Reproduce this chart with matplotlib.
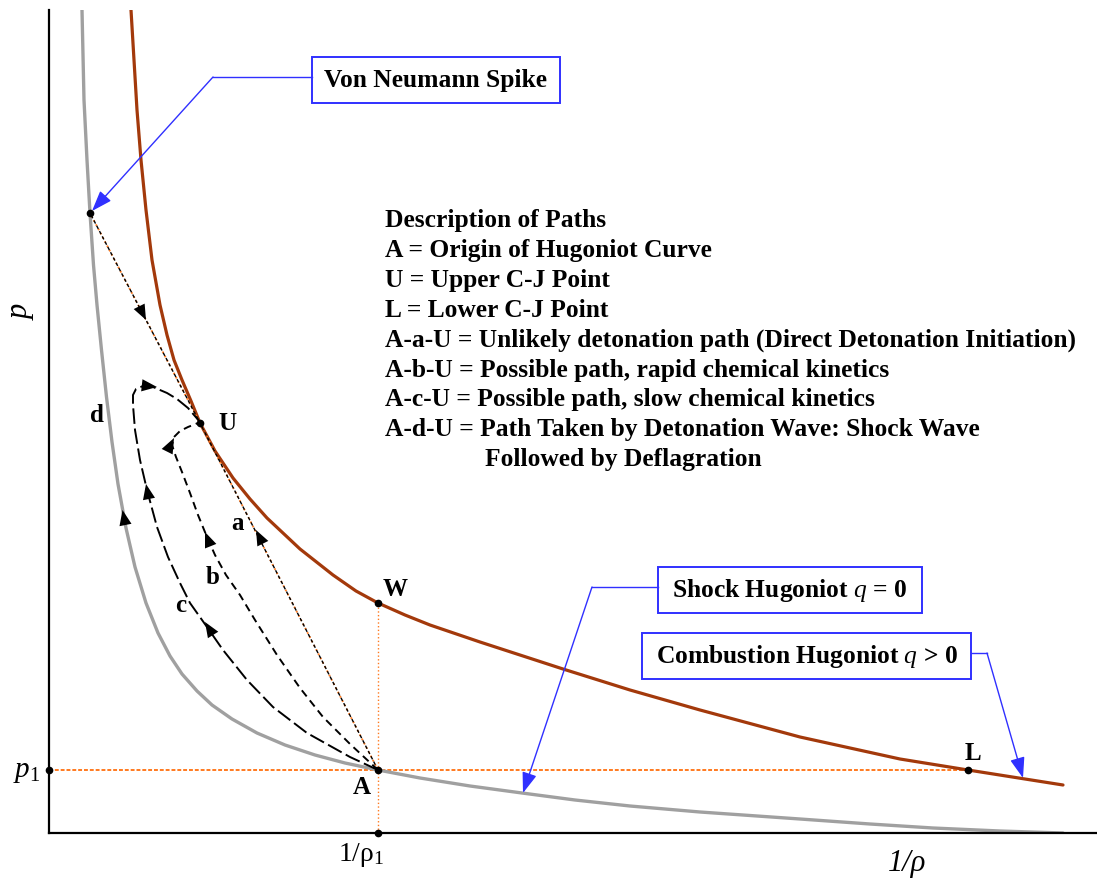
import matplotlib
matplotlib.use("Agg")
import matplotlib.pyplot as plt
from matplotlib.patches import Rectangle

plt.rcParams['font.family'] = ['Liberation Serif', 'DejaVu Serif']
plt.rcParams['mathtext.fontset'] = 'custom'
plt.rcParams['mathtext.rm'] = 'Liberation Serif'
plt.rcParams['mathtext.it'] = 'Liberation Serif:italic'
plt.rcParams['mathtext.bf'] = 'Liberation Serif:bold'

# specific volume (1/rho) and pressure, arbitrary units
shock_v = [0.33, 0.35, 0.38, 0.41, 0.445, 0.48, 0.525, 0.575, 0.63, 0.69, 0.77, 0.86,
           0.97, 1.09, 1.21, 1.33, 1.48, 1.63, 1.83, 2.08, 2.36, 2.66, 2.96, 3.29,
           3.71, 4.21, 4.73, 5.26, 5.81, 6.51, 7.51, 8.21, 8.84, 9.51, 10.14]
shock_p = [8.23, 7.33, 6.73, 6.20, 5.68, 5.28, 4.83, 4.36, 3.91, 3.49, 3.05, 2.66,
           2.30, 2.00, 1.77, 1.59, 1.42, 1.28, 1.14, 1.00, 0.88, 0.78, 0.70, 0.63,
           0.55, 0.47, 0.40, 0.33, 0.27, 0.21, 0.14, 0.09, 0.05, 0.02, 0.00]

comb_v = [0.82, 0.85, 0.88, 0.92, 0.97, 1.03, 1.11, 1.18, 1.25, 1.33, 1.42, 1.51, 1.66,
          1.84, 2.01, 2.18, 2.51, 2.84, 3.07, 3.29, 3.56, 3.81, 4.31, 5.14, 5.81, 6.51,
          7.51, 8.51, 9.19, 10.14]
comb_p = [8.23, 7.73, 7.23, 6.73, 6.23, 5.73, 5.28, 4.98, 4.73, 4.53, 4.32, 4.10, 3.82,
          3.55, 3.34, 3.15, 2.84, 2.58, 2.42, 2.30, 2.18, 2.08, 1.91, 1.64, 1.43, 1.23,
          0.96, 0.74, 0.63, 0.48]

# named states
pt_names = ['VN', 'U', 'W', 'A', 'L']
pt_v = [0.41, 1.51, 3.29, 3.29, 9.19]
pt_p = [6.20, 4.10, 2.30, 0.63, 0.63]
v1 = 3.29
p1 = 0.63

# Rayleigh line A -> U -> von Neumann spike
ray_v = [3.29, 1.51, 0.41]
ray_p = [0.63, 4.10, 6.20]

# path b (rapid kinetics)
b_v = [3.29, 3.01, 2.74, 2.51, 2.28, 2.06, 1.91, 1.77, 1.66, 1.58, 1.49, 1.41, 1.33,
       1.27, 1.23, 1.25, 1.31, 1.39, 1.49]
b_p = [0.63, 0.89, 1.16, 1.45, 1.78, 2.13, 2.38, 2.58, 2.78, 2.96, 3.18, 3.40, 3.61,
       3.76, 3.88, 3.96, 4.02, 4.06, 4.10]

# path c (slow kinetics)
c_v = [3.29, 3.01, 2.58, 2.24, 1.98, 1.74, 1.58, 1.41, 1.31, 1.19, 1.08, 0.98, 0.91,
       0.86, 0.84, 0.84, 0.87, 0.94, 1.04, 1.18, 1.28, 1.39, 1.51]
c_p = [0.63, 0.76, 1.00, 1.26, 1.53, 1.83, 2.06, 2.30, 2.50, 2.76, 3.06, 3.43, 3.73,
       4.03, 4.28, 4.38, 4.44, 4.47, 4.46, 4.40, 4.34, 4.25, 4.11]

# direction arrows: (tail v, tail p, tip v, tip p)
arrows = [
    (0.755, 3.13, 0.735, 3.23),  # d
    (1.61, 2.03, 1.56, 2.11),    # c lower
    (0.99, 3.39, 0.97, 3.49),    # c upper
    (0.99, 4.47, 1.08, 4.46),    # c hook
    (1.60, 2.91, 1.56, 3.01),    # b lower
    (1.21, 3.87, 1.25, 3.95),    # b upper
    (2.12, 2.93, 2.07, 3.03),    # a
    (0.92, 5.23, 0.97, 5.13),    # spike -> U
]

point_labels = ['U', 'W', 'A', 'L', 'a', 'b', 'c', 'd']
label_v = [1.78, 3.46, 3.13, 9.24, 1.89, 1.64, 1.32, 0.48]
label_p = [4.10, 2.43, 0.45, 0.80, 3.10, 2.55, 2.28, 4.18]

desc_lines = ['Description of Paths',
              'A = Origin of Hugoniot Curve',
              'U = Upper C-J Point',
              'L = Lower C-J Point',
              'A-a-U = Unlikely detonation path (Direct Detonation Initiation)',
              'A-b-U = Possible path, rapid chemical kinetics',
              'A-c-U = Possible path, slow chemical kinetics',
              'A-d-U = Path Taken by Detonation Wave: Shock Wave']
desc_extra = 'Followed by Deflagration'

# callout boxes: text, box (v0, v1, p0, p1), leader path
box_texts = ['Von Neumann Spike', 'Shock Hugoniot $q$ = 0', 'Combustion Hugoniot $q$ > 0']
box_extent = [(2.63, 5.11, 7.30, 7.76), (6.09, 8.73, 2.20, 2.66), (5.93, 9.22, 1.54, 2.00)]
leader_v = [[2.63, 1.64, 0.43], [6.09, 5.43, 4.74], [9.22, 9.38, 9.74]]
leader_p = [[7.56, 7.56, 6.22], [2.46, 2.46, 0.40], [1.80, 1.80, 0.55]]

red = '#A3390B'
gray = '#A0A0A0'
orange = '#FF7A1F'
blue = '#3030FF'
fs = 18.4

fig = plt.figure(figsize=(10.97, 8.81), dpi=100)
ax = fig.add_axes([49/1097, 48/881, 1 - 49/1097, 823/881])
ax.set_xlim(0, 10.48)
ax.set_ylim(0, 8.23)
for s in ['top', 'right']:
    ax.spines[s].set_visible(False)
for s in ['left', 'bottom']:
    ax.spines[s].set_linewidth(1.6)
ax.set_xticks([])
ax.set_yticks([])

# Hugoniot curves
ax.plot(shock_v, shock_p, color=gray, lw=2.4, zorder=2,
        solid_capstyle='round', solid_joinstyle='round')
ax.plot(comb_v, comb_p, color=red, lw=2.3, zorder=2,
        solid_capstyle='round', solid_joinstyle='round')

# reference lines
ax.plot([0, pt_v[4]], [p1, p1], color=orange, lw=1.4, dashes=(2, 1), zorder=1)
ax.plot([v1, v1], [0, pt_p[2]], color=orange, lw=1.0, ls=':', zorder=1)
ax.plot(ray_v, ray_p, color=orange, lw=1.3, ls=':', zorder=3)
ax.plot(ray_v, ray_p, color='k', lw=1.0, dashes=(2.5, 1.8), zorder=3)

# paths b and c
ax.plot(b_v, b_p, color='k', lw=1.4, dashes=(4, 2.6), zorder=4)
ax.plot(c_v, c_p, color='k', lw=1.4, dashes=(8, 2.4), zorder=4)

for tv, tp, hv, hp in arrows:
    ax.annotate('', xy=(hv, hp), xytext=(tv, tp),
                arrowprops=dict(arrowstyle='-|>,head_length=0.55,head_width=0.22',
                                color='k', lw=0, shrinkA=0, shrinkB=0,
                                mutation_scale=20), zorder=5)

# points
ax.plot(pt_v, pt_p, 'o', color='k', ms=4.5, zorder=6)
ax.plot([v1, 0], [0, p1], 'o', color='k', ms=4.5, zorder=6, clip_on=False)

for t, lv, lp in zip(point_labels, label_v, label_p):
    ax.text(lv, lp, t, fontsize=18, fontweight='bold', ha='center', va='center')

# description
for i, line in enumerate(desc_lines):
    ax.text(3.36, 6.12 - i * 0.298, line, fontsize=fs, fontweight='bold',
            ha='left', va='center')
ax.text(4.36, 6.12 - 8 * 0.298, desc_extra, fontsize=fs, fontweight='bold',
        ha='left', va='center')

# callouts
for t, (x0, x1, y0, y1), lv, lp in zip(box_texts, box_extent, leader_v, leader_p):
    ax.add_patch(Rectangle((x0, y0), x1 - x0, y1 - y0, fill=True, facecolor='white',
                           edgecolor=blue, lw=1.4, zorder=7))
    ax.text((x0 + x1) / 2, (y0 + y1) / 2, t, fontsize=fs, fontweight='bold',
            ha='center', va='center', zorder=8)
    ax.plot(lv[:2], lp[:2], color=blue, lw=1.0, zorder=7)
    ax.annotate('', xy=(lv[2], lp[2]), xytext=(lv[1], lp[1]),
                arrowprops=dict(arrowstyle='-|>,head_length=0.7,head_width=0.25',
                                color=blue, lw=1.0, shrinkA=0, shrinkB=0,
                                mutation_scale=18), zorder=7)

# axis labels
ax.text(-0.27, 5.22, '$p$', fontsize=22, rotation=90, ha='center', va='center')
ax.text(-0.22, 0.61, '$p_1$', fontsize=21, ha='center', va='center')
ax.text(3.12, -0.22, r'1/$\mathrm{\rho}_1$', fontsize=20, ha='center', va='center')
ax.text(8.58, -0.31, '1/ρ', fontsize=22, style='italic', ha='center', va='center')

fig.savefig('out.png', dpi=100)
